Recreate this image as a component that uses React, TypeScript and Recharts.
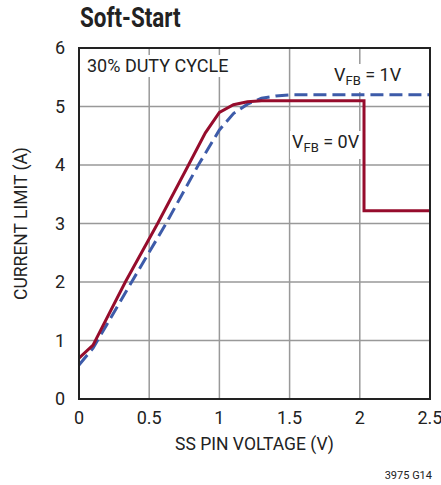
import React from 'react';
import { LineChart, Line, XAxis, YAxis, CartesianGrid } from 'recharts';

const xTicks = [0, 0.5, 1, 1.5, 2, 2.5];
const yTicks = [0, 1, 2, 3, 4, 5, 6];

// V_FB = 0V (solid red)
const vfb0 = [
  { v: 0, i: 0.7 },
  { v: 0.1, i: 0.92 },
  { v: 0.33, i: 2.0 },
  { v: 0.56, i: 3.0 },
  { v: 0.78, i: 4.0 },
  { v: 0.9, i: 4.55 },
  { v: 1.0, i: 4.9 },
  { v: 1.1, i: 5.03 },
  { v: 1.2, i: 5.08 },
  { v: 1.3, i: 5.1 },
  { v: 2.03, i: 5.1 },
  { v: 2.03, i: 3.22 },
  { v: 2.5, i: 3.22 },
];

// V_FB = 1V (dashed blue)
const vfb1 = [
  { v: 0, i: 0.58 },
  { v: 0.1, i: 0.87 },
  { v: 0.2, i: 1.28 },
  { v: 0.375, i: 2.0 },
  { v: 0.62, i: 3.0 },
  { v: 0.85, i: 4.0 },
  { v: 1.0, i: 4.6 },
  { v: 1.1, i: 4.88 },
  { v: 1.2, i: 5.04 },
  { v: 1.3, i: 5.14 },
  { v: 1.4, i: 5.18 },
  { v: 1.5, i: 5.2 },
  { v: 2.5, i: 5.2 },
];

const font = 'Roboto, Arial, sans-serif';
const textColor = '#222';

const Note = ({ left, top, children }: { left: number; top: number; children: React.ReactNode }) => (
  <div
    style={{
      position: 'absolute',
      left,
      top,
      background: '#fff',
      padding: '0 2px',
      fontFamily: font,
      fontSize: 18,
      color: textColor,
      lineHeight: '22px',
      whiteSpace: 'nowrap',
    }}
  >
    {children}
  </div>
);

const App = () => {
  return (
    <div style={{ position: 'absolute', left: 0, top: 0, width: 441, height: 485, background: '#fff' }}>
      <LineChart width={441} height={485} margin={{ top: 48, right: 11, bottom: 26, left: 39 }}>
        <CartesianGrid xAxisId="b" yAxisId="l" stroke="#999" strokeWidth={1.5} vertical horizontal />
        <XAxis
          xAxisId="b"
          type="number"
          dataKey="v"
          domain={[0, 2.5]}
          ticks={xTicks}
          axisLine={false}
          tickLine={false}
          interval={0}
          tick={{ fill: textColor, fontSize: 18, fontFamily: font }}
          tickMargin={6}
          height={60}
          label={{ value: 'SS PIN VOLTAGE (V)', position: 'insideBottom', offset: 9, fill: textColor, fontSize: 17.5, fontFamily: font }}
        />
        <YAxis
          yAxisId="l"
          type="number"
          domain={[0, 6]}
          ticks={yTicks}
          axisLine={false}
          tickLine={false}
          interval={0}
          width={40}
          tick={{ fill: textColor, fontSize: 18, fontFamily: font }}
          tickMargin={8}
          label={{ value: 'CURRENT LIMIT (A)', angle: -90, position: 'insideLeft', offset: -18, style: { textAnchor: 'middle' }, fill: textColor, fontSize: 17.5, fontFamily: font }}
        />
        <Line
          xAxisId="b"
          yAxisId="l"
          data={vfb1}
          dataKey="i"
          type="linear"
          stroke="#3d5ba9"
          strokeWidth={3}
          strokeDasharray="13 6"
          dot={false}
          isAnimationActive={false}
        />
        <Line
          xAxisId="b"
          yAxisId="l"
          data={vfb0}
          dataKey="i"
          type="linear"
          stroke="#960c2c"
          strokeWidth={3}
          dot={false}
          isAnimationActive={false}
        />
      </LineChart>
      {/* plot frame */}
      <div style={{ position: 'absolute', left: 78, top: 47, width: 353, height: 353, boxSizing: 'border-box', border: '2px solid #222', pointerEvents: 'none' }} />
      <div
        style={{
          position: 'absolute',
          left: 80,
          top: 2,
          fontFamily: font,
          fontWeight: 'bold',
          fontSize: 27,
          color: textColor,
          transform: 'scaleX(0.83)',
          transformOrigin: 'left top',
          whiteSpace: 'nowrap',
        }}
      >
        Soft-Start
      </div>
      <Note left={85} top={55}>30% DUTY CYCLE</Note>
      <Note left={332} top={64}>
        V<sub style={{ fontSize: 13, verticalAlign: -4 }}>FB</sub> = 1V
      </Note>
      <Note left={290} top={131}>
        V<sub style={{ fontSize: 13, verticalAlign: -4 }}>FB</sub> = 0V
      </Note>
      <div style={{ position: 'absolute', right: 9, top: 469, fontFamily: font, fontSize: 11, color: textColor }}>3975 G14</div>
    </div>
  );
};

export default App;
